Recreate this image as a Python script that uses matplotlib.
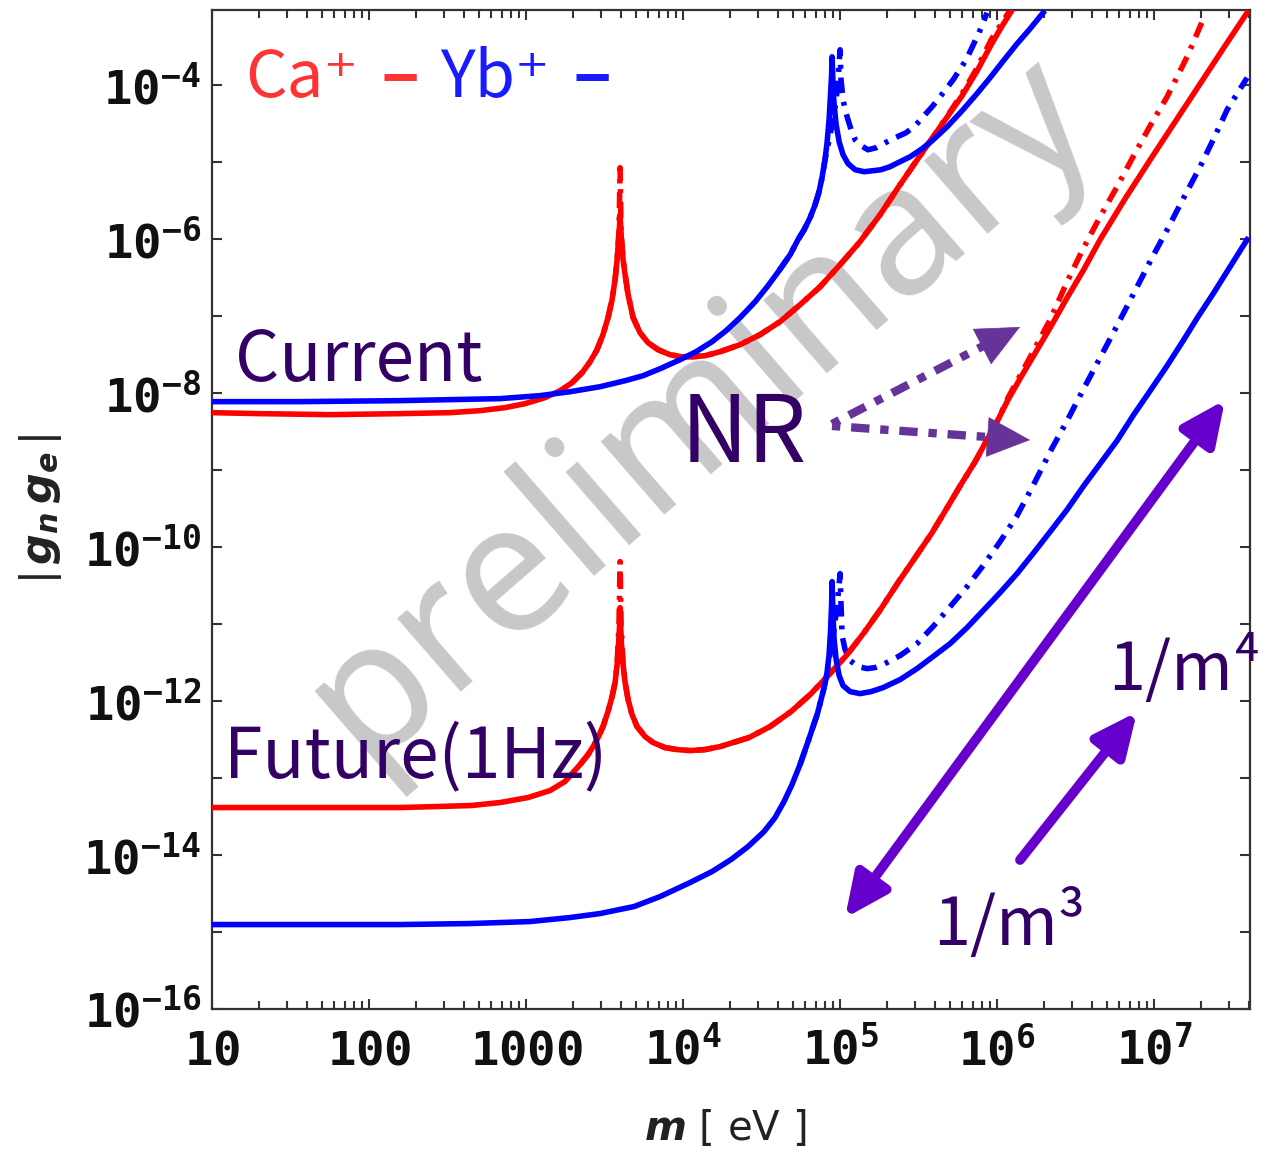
import matplotlib
matplotlib.use('Agg')
import numpy as np
import matplotlib.pyplot as plt
from matplotlib.patches import FancyArrowPatch
from matplotlib.lines import Line2D
from matplotlib.ticker import FixedLocator, LogLocator, NullFormatter, FixedFormatter

# ---------------- data (log10 m [eV], log10 |g_n g_e|) ----------------
# Current, Ca+ (full)
cur_ca_logm = [1.000, 1.306, 1.752, 2.197, 2.516, 2.707, 2.866, 2.994, 3.121, 3.217, 3.293, 3.357, 3.408,
               3.452, 3.490, 3.522, 3.548, 3.567, 3.580, 3.589, 3.596, 3.599, 3.602, 3.608, 3.618, 3.631,
               3.650, 3.682, 3.726, 3.777, 3.841, 3.917, 3.987, 4.064, 4.140, 4.236, 4.363, 4.490, 4.618,
               4.745, 4.873, 5.000, 5.127, 5.255, 5.369, 5.478, 5.611, 5.701, 5.777, 5.873, 5.962, 6.025,
               6.089]
cur_ca_logg = [-8.253, -8.266, -8.279, -8.266, -8.253, -8.227, -8.188, -8.136, -8.058, -7.968, -7.864, -7.734,
               -7.591, -7.435, -7.240, -7.019, -6.786, -6.526, -6.266, -6.006, -5.812, -5.682, -5.812, -6.006,
               -6.266, -6.461, -6.721, -7.019, -7.214, -7.344, -7.435, -7.500, -7.526, -7.526, -7.513, -7.461,
               -7.370, -7.240, -7.071, -6.851, -6.617, -6.331, -6.032, -5.682, -5.331, -5.006, -4.617, -4.357,
               -4.136, -3.812, -3.474, -3.253, -3.045]
# Current, Ca+ (NR)
cur_ca_nr_logm = [3.293, 3.357, 3.408, 3.452, 3.490, 3.522, 3.548, 3.567, 3.580, 3.592, 3.599, 3.605, 3.618,
                  3.631, 3.650, 3.682, 3.726, 3.777, 3.841, 3.917, 3.987, 4.064, 4.140, 4.236, 4.363, 4.490,
                  4.618, 4.745, 4.873, 5.000, 5.127, 5.255, 5.369, 5.478, 5.611, 5.701, 5.777, 5.873, 5.962,
                  6.076]
cur_ca_nr_logg = [-7.864, -7.734, -7.591, -7.435, -7.240, -7.019, -6.786, -6.526, -6.266, -5.903, -5.071, -5.903,
                  -6.266, -6.461, -6.721, -7.019, -7.214, -7.344, -7.435, -7.500, -7.526, -7.526, -7.513, -7.461,
                  -7.370, -7.240, -7.071, -6.851, -6.617, -6.331, -6.032, -5.682, -5.331, -5.006, -4.617, -4.344,
                  -4.110, -3.773, -3.409, -3.045]
# Current, Yb+ (full)
cur_yb_logm = [1.000, 1.561, 2.197, 2.516, 2.834, 3.089, 3.280, 3.471, 3.631, 3.745, 3.854, 3.981, 4.083,
               4.185, 4.274, 4.363, 4.459, 4.541, 4.611, 4.682, 4.732, 4.771, 4.809, 4.841, 4.866, 4.885,
               4.904, 4.917, 4.930, 4.939, 4.946, 4.949, 4.955, 4.962, 4.975, 4.994, 5.019, 5.051, 5.096,
               5.153, 5.210, 5.261, 5.318, 5.369, 5.446, 5.522, 5.586, 5.682, 5.777, 5.866, 5.955, 6.045,
               6.127, 6.210, 6.293]
cur_yb_logg = [-8.110, -8.110, -8.097, -8.084, -8.071, -8.032, -7.981, -7.916, -7.838, -7.773, -7.682, -7.565,
               -7.461, -7.331, -7.188, -7.019, -6.812, -6.604, -6.409, -6.201, -6.006, -5.877, -5.721, -5.552,
               -5.383, -5.201, -4.968, -4.747, -4.448, -4.123, -3.864, -3.630, -3.994, -4.253, -4.513, -4.734,
               -4.903, -5.019, -5.097, -5.123, -5.110, -5.097, -5.058, -5.006, -4.929, -4.825, -4.721, -4.539,
               -4.331, -4.123, -3.903, -3.669, -3.461, -3.266, -3.058]
# Current, Yb+ (NR)
cur_yb_nr_logm = [4.611, 4.682, 4.732, 4.771, 4.809, 4.841, 4.866, 4.885, 4.904, 4.930, 4.955, 4.975, 4.987,
                  5.000, 5.006, 5.019, 5.032, 5.045, 5.070, 5.096, 5.134, 5.178, 5.229, 5.287, 5.350, 5.420,
                  5.478, 5.529, 5.586, 5.637, 5.720, 5.803, 5.885, 5.936]
cur_yb_nr_logg = [-6.409, -6.201, -6.006, -5.877, -5.721, -5.552, -5.383, -5.201, -4.968, -4.708, -4.448, -4.188,
                  -3.929, -3.539, -3.929, -4.188, -4.318, -4.409, -4.578, -4.708, -4.786, -4.838, -4.812, -4.747,
                  -4.682, -4.617, -4.526, -4.409, -4.279, -4.149, -3.929, -3.669, -3.318, -3.058]
# Future (1 Hz), Ca+ (full)
fut_ca_logm = [1.000, 1.561, 2.197, 2.650, 2.834, 3.013, 3.153, 3.248, 3.344, 3.395, 3.427, 3.459, 3.490,
               3.522, 3.548, 3.567, 3.580, 3.589, 3.596, 3.599, 3.602, 3.608, 3.618, 3.631, 3.650, 3.675,
               3.707, 3.758, 3.809, 3.885, 3.962, 4.045, 4.140, 4.236, 4.420, 4.554, 4.688, 4.809, 4.936,
               5.045, 5.153, 5.261, 5.369, 5.478, 5.586, 5.682, 5.777, 5.860, 5.936, 6.006, 6.070, 6.146,
               6.229, 6.338, 6.446, 6.548, 6.656, 6.815, 6.975, 7.134, 7.293, 7.452, 7.592]
fut_ca_logg = [-13.383, -13.383, -13.383, -13.357, -13.318, -13.253, -13.162, -13.045, -12.825, -12.695,
               -12.591, -12.474, -12.331, -12.136, -11.942, -11.760, -11.526, -11.266, -11.006, -10.786,
               -11.006, -11.266, -11.526, -11.760, -11.981, -12.175, -12.331, -12.461, -12.539, -12.604,
               -12.630, -12.643, -12.630, -12.591, -12.474, -12.331, -12.136, -11.916, -11.643, -11.396,
               -11.110, -10.799, -10.461, -10.136, -9.812, -9.487, -9.162, -8.890, -8.604, -8.344,
               -8.084, -7.812, -7.526, -7.149, -6.760, -6.409, -6.006, -5.474, -4.968, -4.474,
               -3.981, -3.487, -3.058]
# Future (1 Hz), Ca+ (NR)
fut_ca_nr_logm = [3.344, 3.395, 3.427, 3.459, 3.490, 3.522, 3.548, 3.567, 3.580, 3.592, 3.599, 3.605, 3.618,
                  3.631, 3.650, 3.675, 3.707, 3.758, 3.809, 3.885, 3.962, 4.045, 4.140, 4.236, 4.420, 4.554,
                  4.688, 4.809, 4.936, 5.045, 5.153, 5.261, 5.369, 5.478, 5.586, 5.682, 5.777, 5.860, 5.936,
                  6.006, 6.070, 6.146, 6.229, 6.338, 6.446, 6.548, 6.656, 6.764, 6.866, 6.975, 7.083, 7.210,
                  7.325]
fut_ca_nr_logg = [-12.825, -12.695, -12.591, -12.474, -12.331, -12.136, -11.942, -11.760, -11.526, -11.006,
                  -10.188, -11.006, -11.526, -11.760, -11.981, -12.175, -12.331, -12.461, -12.539, -12.604,
                  -12.630, -12.643, -12.630, -12.591, -12.474, -12.331, -12.136, -11.916, -11.643, -11.396,
                  -11.110, -10.799, -10.461, -10.136, -9.812, -9.487, -9.162, -8.890, -8.604, -8.344,
                  -8.058, -7.773, -7.461, -7.045, -6.552, -6.123, -5.708, -5.318, -4.929, -4.526,
                  -4.149, -3.630, -3.084]
# Future (1 Hz), Yb+ (full)
fut_yb_logm = [1.000, 1.561, 2.197, 2.643, 3.025, 3.280, 3.471, 3.688, 3.854, 4.045, 4.185, 4.306, 4.414,
               4.516, 4.586, 4.643, 4.694, 4.745, 4.796, 4.828, 4.854, 4.879, 4.898, 4.917, 4.930, 4.939,
               4.946, 4.949, 4.955, 4.962, 4.975, 4.994, 5.019, 5.064, 5.127, 5.197, 5.274, 5.382, 5.490,
               5.592, 5.701, 5.809, 5.911, 6.019, 6.127, 6.229, 6.338, 6.446, 6.548, 6.656, 6.764, 6.866,
               6.975, 7.083, 7.185, 7.280, 7.376, 7.484, 7.592]
fut_yb_logg = [-14.903, -14.903, -14.903, -14.890, -14.864, -14.812, -14.760, -14.669, -14.539, -14.357,
               -14.214, -14.058, -13.890, -13.695, -13.513, -13.305, -13.084, -12.825, -12.526, -12.331,
               -12.175, -11.981, -11.825, -11.630, -11.396, -11.097, -10.747, -10.448, -10.877, -11.201,
               -11.461, -11.669, -11.799, -11.877, -11.903, -11.877, -11.825, -11.721, -11.578, -11.422,
               -11.253, -11.045, -10.825, -10.591, -10.344, -10.084, -9.799, -9.513, -9.214, -8.916,
               -8.617, -8.292, -7.968, -7.643, -7.318, -7.006, -6.708, -6.357, -6.006]
# Future (1 Hz), Yb+ (NR)
fut_yb_nr_logm = [4.745, 4.796, 4.828, 4.854, 4.879, 4.898, 4.917, 4.936, 4.962, 4.981, 4.994, 5.000, 5.006,
                  5.013, 5.032, 5.064, 5.115, 5.172, 5.223, 5.274, 5.382, 5.490, 5.592, 5.701, 5.809, 5.911,
                  6.019, 6.127, 6.229, 6.338, 6.446, 6.548, 6.656, 6.764, 6.892, 6.987, 7.083, 7.185, 7.293,
                  7.376, 7.465, 7.592]
fut_yb_nr_logg = [-12.825, -12.526, -12.331, -12.175, -11.981, -11.825, -11.630, -11.396, -11.071, -10.747,
                  -10.487, -10.344, -10.747, -11.149, -11.331, -11.474, -11.552, -11.578, -11.565, -11.526,
                  -11.409, -11.253, -11.032, -10.773, -10.513, -10.240, -9.929, -9.591, -9.201, -8.760,
                  -8.357, -7.955, -7.539, -7.123, -6.617, -6.240, -5.877, -5.474, -5.058, -4.708,
                  -4.318, -3.903]

xtick_vals = [1e1, 1e2, 1e3, 1e4, 1e5, 1e6, 1e7]
xtick_labels = [r'$\mathbf{10}$', r'$\mathbf{100}$', r'$\mathbf{1000}$', r'$\mathbf{10^4}$',
                r'$\mathbf{10^5}$', r'$\mathbf{10^6}$', r'$\mathbf{10^7}$']
ytick_exps = list(range(-16, -3))
# -----------------------------------------------------------------------

plt.rcParams['mathtext.fontset'] = 'custom'
plt.rcParams['mathtext.rm'] = 'DejaVu Sans Mono'
plt.rcParams['mathtext.bf'] = 'DejaVu Sans Mono:bold'
plt.rcParams['mathtext.it'] = 'DejaVu Sans:bold:italic'
plt.rcParams['mathtext.sf'] = 'DejaVu Sans'

W, H = 1267, 1152
fig = plt.figure(figsize=(W / 100, H / 100), dpi=100)
ax = fig.add_axes([212 / W, 1 - 1009 / H, (1250 - 212) / W, (1009 - 10) / H])


def P(x, y):
    return (x / W, 1 - y / H)


RED = '#ff0000'
BLUE = '#0000ff'
LW = 4.0
DD = (0, (2.8, 1.6, 0.7, 1.6))


def pw(a):
    return 10.0 ** np.asarray(a)


# NR (dash-dot) first, full (solid) on top
for lm, lg, c in [(cur_ca_nr_logm, cur_ca_nr_logg, RED), (fut_ca_nr_logm, fut_ca_nr_logg, RED),
                  (cur_yb_nr_logm, cur_yb_nr_logg, BLUE), (fut_yb_nr_logm, fut_yb_nr_logg, BLUE)]:
    ax.plot(pw(lm), pw(lg), color=c, lw=LW, ls=DD, dash_capstyle='butt', zorder=3)
for lm, lg, c in [(cur_ca_logm, cur_ca_logg, RED), (fut_ca_logm, fut_ca_logg, RED),
                  (cur_yb_logm, cur_yb_logg, BLUE), (fut_yb_logm, fut_yb_logg, BLUE)]:
    ax.plot(pw(lm), pw(lg), color=c, lw=LW, ls='-', zorder=4, solid_joinstyle='round')

ax.set_xscale('log')
ax.set_yscale('log')
ax.set_xlim(10, 4.08e7)
ax.set_ylim(1e-16, 9.5e-4)

ax.xaxis.set_major_locator(FixedLocator(xtick_vals))
ax.xaxis.set_major_formatter(FixedFormatter(xtick_labels))
ax.xaxis.set_minor_locator(LogLocator(base=10, subs=np.arange(2, 10), numticks=20))
ax.xaxis.set_minor_formatter(NullFormatter())

yt = [10.0 ** e for e in ytick_exps]
ylabels = [(r'$\mathbf{10^{%d}}$' % e) if e % 2 == 0 else '' for e in ytick_exps]
ax.yaxis.set_major_locator(FixedLocator(yt))
ax.yaxis.set_major_formatter(FixedFormatter(ylabels))
ax.yaxis.set_minor_locator(FixedLocator([]))

TC = '#333333'
ax.tick_params(which='both', direction='in', top=True, right=True, color=TC, width=1.5)
ax.tick_params(which='major', length=7.5)
ax.tick_params(which='minor', length=6)
ax.tick_params(axis='x', which='major', labelsize=34, pad=40, labelcolor='#111111')
ax.tick_params(axis='y', which='major', labelsize=34, pad=8, labelcolor='#111111')
for t in ax.xaxis.get_majorticklabels():
    t.set_verticalalignment('baseline')
for s in ax.spines.values():
    s.set_linewidth(1.6)
    s.set_color(TC)

fig.text(*P(725, 1140), r'$m$ [ eV ]', fontsize=29, ha='center', va='baseline',
         color='#222222', family='DejaVu Sans')
fig.text(*P(40, 512), r'$|g_n\,g_e|$', fontsize=31, ha='center', va='center',
         rotation=90, color='#222222')

# watermark
ax.text(*P(700, 408), 'preliminary', transform=fig.transFigure, fontsize=130,
        rotation=41, ha='center', va='center', color='#c8c8c8', family='Noto Sans',
        fontweight='medium', zorder=1, clip_on=False)

JP = ['Noto Sans CJK JP', 'DejaVu Sans']
PURP = '#330066'
fig.text(*P(245, 97), 'Ca⁺', fontsize=47, color='#ff3333', family=JP, ha='left', va='baseline')
fig.text(*P(380, 99), '–', fontsize=52, color='#ff3333', family=JP, ha='left', va='baseline',
         fontweight='bold')
fig.text(*P(440, 97), 'Yb⁺', fontsize=47, color='#1a1aff', family=JP, ha='left', va='baseline')
fig.text(*P(572, 99), '–', fontsize=52, color='#1a1aff', family=JP, ha='left', va='baseline',
         fontweight='bold')
fig.text(*P(235, 381), 'Current', fontsize=50, color=PURP, family=JP, ha='left', va='baseline')
fig.text(*P(681, 462), 'NR', fontsize=67, color=PURP, family=JP, ha='left', va='baseline')
fig.text(*P(224, 778), 'Future(1Hz)', fontsize=50, color=PURP, family=JP, ha='left', va='baseline')
fig.text(*P(1108, 690), '1/m⁴', fontsize=48, color=PURP, family=JP, ha='left', va='baseline')
fig.text(*P(933, 945), '1/m³', fontsize=48, color=PURP, family=JP, ha='left', va='baseline')

# NR dotted arrows
NRC = '#663399'
for (x0, y0, x1, y1) in [(832, 424, 1020, 327), (832, 426, 1030, 440)]:
    d = np.hypot(x1 - x0, y1 - y0)
    ux, uy = (x1 - x0) / d, (y1 - y0) / d
    xe, ye = x1 - ux * 30, y1 - uy * 30
    fig.add_artist(Line2D([P(x0, y0)[0], P(xe, ye)[0]], [P(x0, y0)[1], P(xe, ye)[1]],
                          transform=fig.transFigure, color=NRC, lw=6,
                          ls=(0, (1.0, 1.3, 2.2, 1.3)), dash_capstyle='butt'))
    fig.add_artist(FancyArrowPatch(P(x1 - ux * 45, y1 - uy * 45), P(x1, y1), transform=fig.transFigure,
                                   arrowstyle='-|>,head_length=30,head_width=14', mutation_scale=1,
                                   color=NRC, lw=0.5, shrinkA=0, shrinkB=0))

# solid slope arrows
SC = '#6600cc'
fig.add_artist(FancyArrowPatch(P(845, 918), P(1225, 400), transform=fig.transFigure,
                               arrowstyle='<|-|>,head_length=26,head_width=12', mutation_scale=1,
                               color=SC, lw=7, shrinkA=0, shrinkB=0))
fig.add_artist(FancyArrowPatch(P(1020, 860), P(1137, 712), transform=fig.transFigure,
                               arrowstyle='-|>,head_length=26,head_width=12', mutation_scale=1,
                               color=SC, lw=7, shrinkA=0, shrinkB=0))

fig.savefig('out.png', dpi=100)
